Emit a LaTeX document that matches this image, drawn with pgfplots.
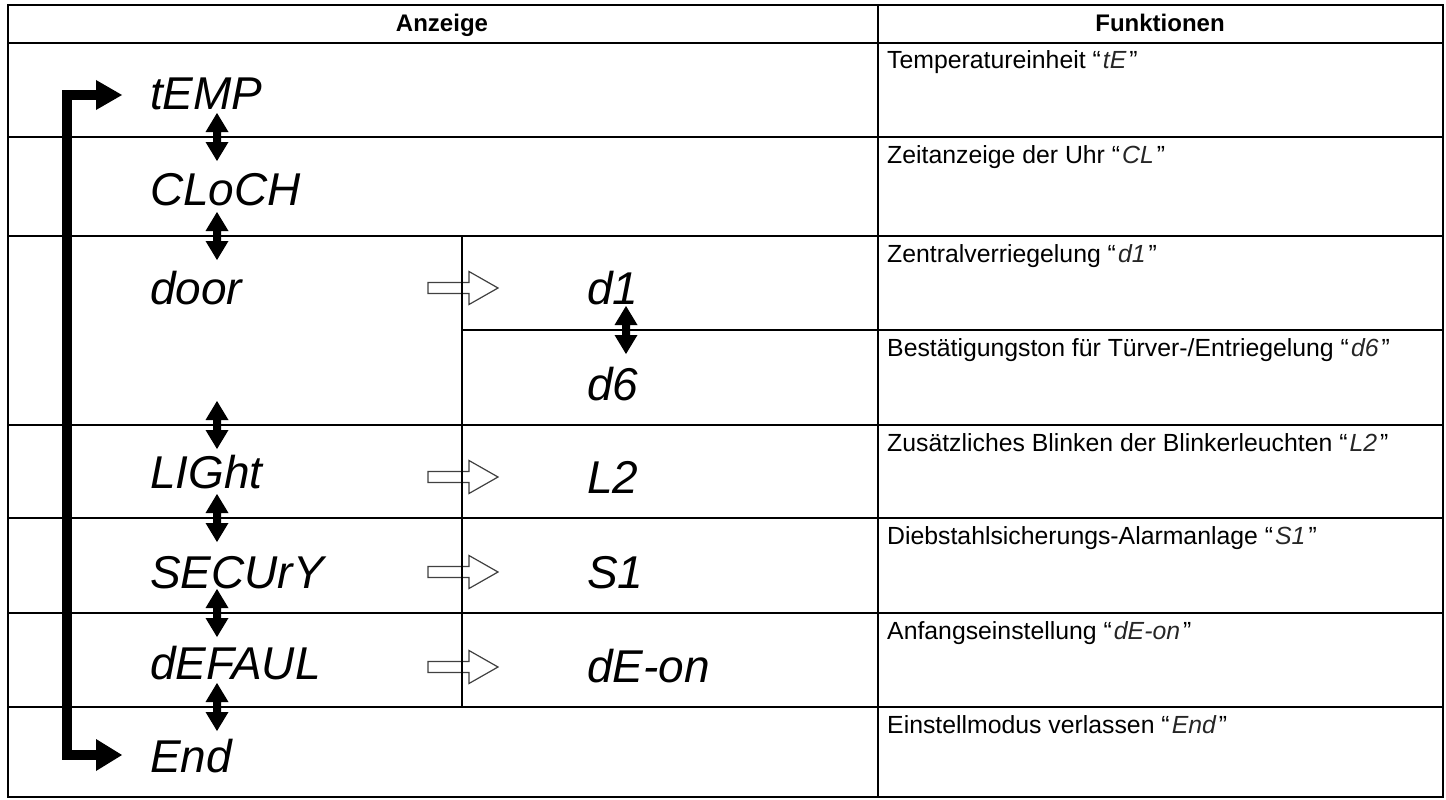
\documentclass[border=0pt]{standalone}
\usepackage{fontspec}
\setmainfont{Liberation Sans}
\usepackage{pgfplots}
\pgfplotsset{compat=1.18}
\tikzset{
  tl/.style={black, line width=2.5pt, line cap=rect, mark=none},
  dbl/.style={fill=black, draw=none, mark=none},
  hol/.style={fill=white, draw=black!75, line width=1.2pt, line join=miter, mark=none},
  lcdL/.style={anchor=base west, inner sep=0pt, font=\fontsize{46}{50}\selectfont\itshape},
  txt/.style={anchor=base west, inner sep=0pt, font=\fontsize{24.8}{29}\selectfont},
  hdr/.style={anchor=base, inner sep=0pt, font=\fontsize{24}{28}\selectfont\bfseries},
}
\newcommand{\sq}[1]{\kern2pt{\itshape\color{black!85}#1}\kern3pt}
\begin{document}
\begin{tikzpicture}
\begin{axis}[
  width=1446pt, height=800pt, scale only axis,
  xmin=0, xmax=1446, ymin=0, ymax=800, y dir=reverse,
  hide axis, clip=false,
]
% invisible frame for bounding box
\addplot[draw=none, mark=none] coordinates {(0,0) (1446,800)};

% hollow arrows (drawn before lines)
\addplot[hol] coordinates {(428,282.5) (469,282.5) (469,271.5) (498,288) (469,304.5) (469,293.5) (428,293.5)} -- cycle;
\addplot[hol] coordinates {(428,471.5) (469,471.5) (469,460.5) (498,477) (469,493.5) (469,482.5) (428,482.5)} -- cycle;
\addplot[hol] coordinates {(428,566.5) (469,566.5) (469,555.5) (498,572) (469,588.5) (469,577.5) (428,577.5)} -- cycle;
\addplot[hol] coordinates {(428,661.5) (469,661.5) (469,650.5) (498,667) (469,683.5) (469,672.5) (428,672.5)} -- cycle;

% table lines
\addplot[tl] coordinates {(8,5) (1443,5)};
\addplot[tl] coordinates {(8,797) (1443,797)};
\addplot[tl] coordinates {(8,5) (8,797)};
\addplot[tl] coordinates {(1443,5) (1443,797)};
\addplot[tl] coordinates {(878,5) (878,797)};
\addplot[tl] coordinates {(8,43) (1443,43)};
\addplot[tl] coordinates {(8,137) (1443,137)};
\addplot[tl] coordinates {(8,236) (1443,236)};
\addplot[tl] coordinates {(462,330) (1443,330)};
\addplot[tl] coordinates {(8,425) (1443,425)};
\addplot[tl] coordinates {(8,518) (1443,518)};
\addplot[tl] coordinates {(8,613) (1443,613)};
\addplot[tl] coordinates {(8,707) (1443,707)};
\addplot[tl] coordinates {(462,236) (462,707)};

% thick loop bar
\addplot[black, line width=10pt, line join=miter, mark=none] coordinates {(100,95) (67,95) (67,755) (100,755)};
\addplot[dbl] coordinates {(96,80) (122,95) (96,110)} -- cycle;
\addplot[dbl] coordinates {(96,739) (122,755) (96,771)} -- cycle;

% double arrows
\addplot[dbl] coordinates {(217,113) (228.5,132) (221,132) (221,142) (228.5,142) (217,161) (205.5,142) (213,142) (213,132) (205.5,132)} -- cycle;
\addplot[dbl] coordinates {(217,212) (228.5,231) (221,231) (221,241) (228.5,241) (217,260) (205.5,241) (213,241) (213,231) (205.5,231)} -- cycle;
\addplot[dbl] coordinates {(217,401) (228.5,420) (221,420) (221,430) (228.5,430) (217,449) (205.5,430) (213,430) (213,420) (205.5,420)} -- cycle;
\addplot[dbl] coordinates {(217,494) (228.5,513) (221,513) (221,523) (228.5,523) (217,542) (205.5,523) (213,523) (213,513) (205.5,513)} -- cycle;
\addplot[dbl] coordinates {(217,589) (228.5,608) (221,608) (221,618) (228.5,618) (217,637) (205.5,618) (213,618) (213,608) (205.5,608)} -- cycle;
\addplot[dbl] coordinates {(217,683) (228.5,702) (221,702) (221,712) (228.5,712) (217,731) (205.5,712) (213,712) (213,702) (205.5,702)} -- cycle;
\addplot[dbl] coordinates {(626,306) (637.5,325) (630,325) (630,335) (637.5,335) (626,354) (614.5,335) (622,335) (622,325) (614.5,325)} -- cycle;

% headers
\node[hdr] at (axis cs:442,32) {Anzeige};
\node[hdr] at (axis cs:1160,32) {Funktionen};

% left display texts
\node[lcdL] at (axis cs:150,110) {tEMP};
\node[lcdL] at (axis cs:150,205) {CLoCH};
\node[lcdL] at (axis cs:150,304) {door};
\node[lcdL] at (axis cs:150,488) {LIGht};
\node[lcdL] at (axis cs:150,588) {SECUrY};
\node[lcdL] at (axis cs:150,679) {dEFAUL};
\node[lcdL] at (axis cs:150,772) {End};

% right display texts
\node[lcdL] at (axis cs:587,304) {d1};
\node[lcdL] at (axis cs:587,400) {d6};
\node[lcdL] at (axis cs:587,493) {L2};
\node[lcdL] at (axis cs:587,588) {S1};
\node[lcdL] at (axis cs:587,682) {dE-on};

% function texts
\node[txt] at (axis cs:887,69) {Temperatureinheit “\sq{tE}”};
\node[txt] at (axis cs:887,163) {Zeitanzeige der Uhr “\sq{CL}”};
\node[txt] at (axis cs:887,262) {Zentralverriegelung “\sq{d1}”};
\node[txt] at (axis cs:887,356) {Bestätigungston für Türver-/Entriegelung “\sq{d6}”};
\node[txt] at (axis cs:887,451) {Zusätzliches Blinken der Blinkerleuchten “\sq{L2}”};
\node[txt] at (axis cs:887,544) {Diebstahlsicherungs-Alarmanlage “\sq{S1}”};
\node[txt] at (axis cs:887,639) {Anfangseinstellung “\sq{dE-on}”};
\node[txt] at (axis cs:887,733) {Einstellmodus verlassen “\sq{End}”};
\end{axis}
\end{tikzpicture}
\end{document}
